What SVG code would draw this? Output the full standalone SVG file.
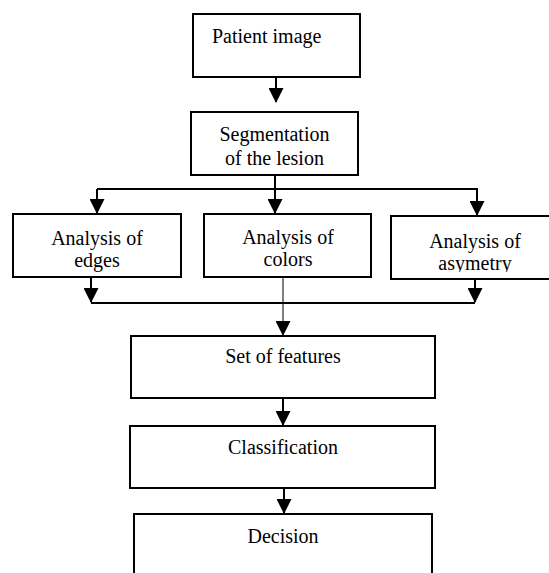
<svg xmlns="http://www.w3.org/2000/svg" width="549" height="573" viewBox="0 0 549 573">
<style>
.box{fill:#fff;stroke:#000;stroke-width:2}
.t{font-family:'Liberation Serif','Times New Roman',Tinos,'DejaVu Serif',serif;font-size:20px;fill:#000}
.c{text-anchor:middle}
.ln{fill:none;stroke:#000;stroke-width:2}
.thin{fill:none;stroke:#000;stroke-width:1}
</style>
<defs>
<marker id="ah" markerUnits="userSpaceOnUse" markerWidth="15" markerHeight="15" refX="14" refY="7.5" orient="auto" viewBox="0 0 15 15">
<path d="M0,0 L15,7.5 L0,15 z" fill="#000"/>
</marker>
<clipPath id="clipAsy"><rect x="380" y="200" width="169" height="72"/></clipPath>
</defs>
<rect width="549" height="573" fill="#fff"/>
<g id="connectors">
<path class="ln" d="M276,77 V102" marker-end="url(#ah)"/>
<path class="ln" d="M275,175 V189 M97,189 H478"/>
<path class="ln" d="M97,189 V213" marker-end="url(#ah)"/>
<path class="ln" d="M275,189 V213" marker-end="url(#ah)"/>
<path class="ln" d="M477,189 V215" marker-end="url(#ah)"/>
<path class="ln" d="M91,277 V302" marker-end="url(#ah)"/>
<path class="ln" d="M475,279 V302" marker-end="url(#ah)"/>
<path class="ln" d="M91,303 H475"/>
<path class="thin" d="M283,277 V335" marker-end="url(#ah)"/>
<path class="ln" d="M283,398 V425" marker-end="url(#ah)"/>
<path class="ln" d="M284,488 V513" marker-end="url(#ah)"/>
</g>
<g id="patient">
<rect class="box" x="193" y="14" width="167" height="63"/>
<text class="t" x="212" y="43" font-family="Liberation Serif, serif">Patient image</text>
</g>
<g id="segmentation">
<rect class="box" x="191" y="112" width="167" height="63"/>
<text class="t c" x="274.5" y="141">Segmentation</text>
<text class="t c" x="274.5" y="165">of the lesion</text>
</g>
<g id="edges">
<rect class="box" x="13" y="214" width="168" height="63"/>
<text class="t c" x="97" y="245">Analysis of</text>
<text class="t c" x="97" y="267">edges</text>
</g>
<g id="colors">
<rect class="box" x="204" y="214" width="167" height="63"/>
<text class="t c" x="288" y="244">Analysis of</text>
<text class="t c" x="288" y="266">colors</text>
</g>
<g id="asymetry">
<rect class="box" x="391" y="216" width="170" height="63"/>
<text class="t c" x="475" y="248">Analysis of</text>
<text class="t c" x="475" y="270" clip-path="url(#clipAsy)">asymetry</text>
</g>
<g id="features">
<rect class="box" x="131" y="336" width="304" height="62"/>
<text class="t c" x="283" y="363">Set of features</text>
</g>
<g id="classification">
<rect class="box" x="130" y="426" width="305" height="62"/>
<text class="t c" x="283" y="454">Classification</text>
</g>
<g id="decision">
<rect class="box" x="134" y="514" width="298" height="70"/>
<text class="t c" x="283" y="543">Decision</text>
</g>
</svg>
